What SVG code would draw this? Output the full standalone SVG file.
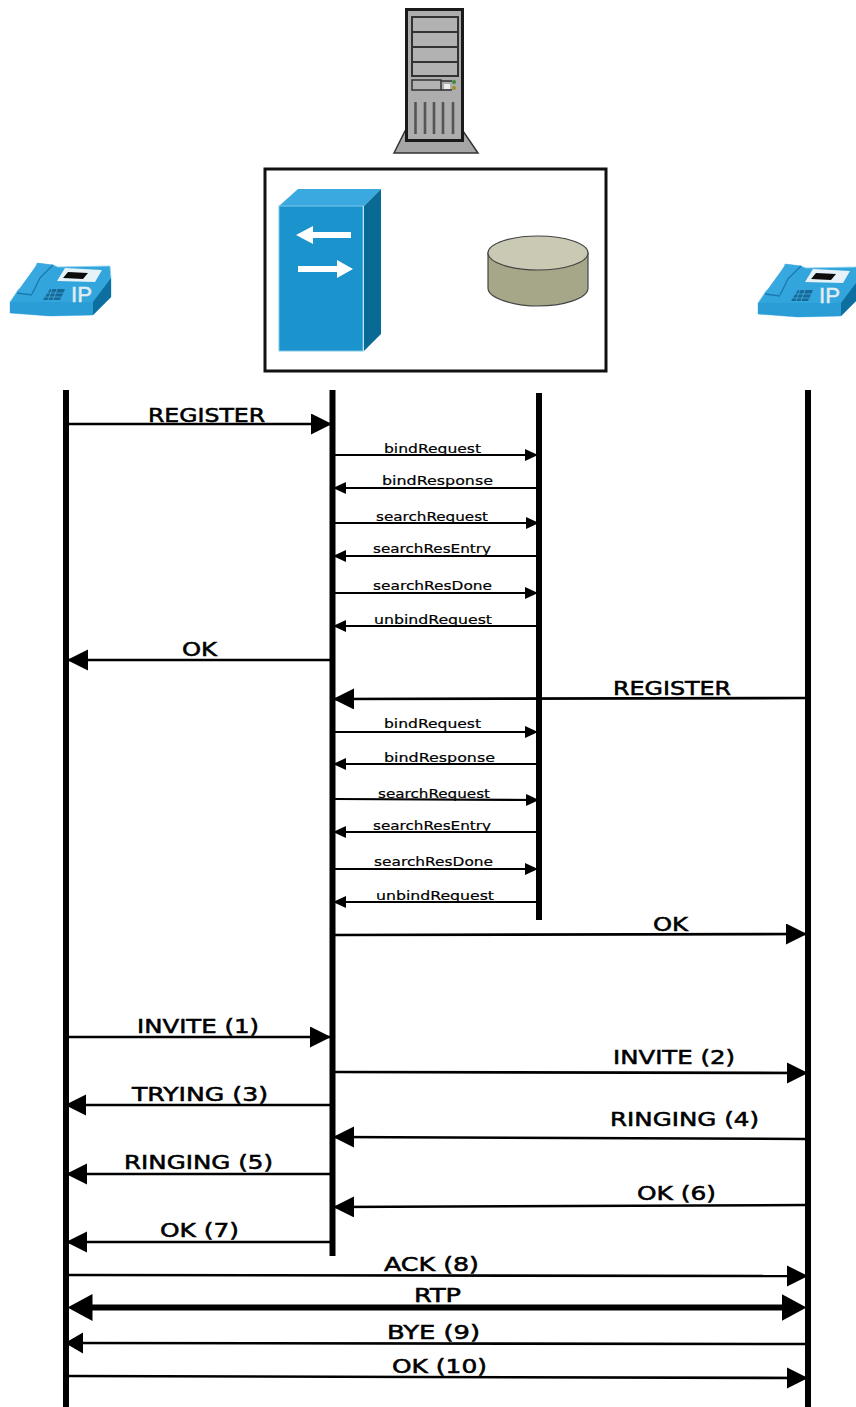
<svg xmlns="http://www.w3.org/2000/svg" width="856" height="1407" viewBox="0 0 856 1407">
<style>
.life{stroke:#000;stroke-width:6;fill:none}
.big{stroke:#000;stroke-width:2.6;fill:none}
.small{stroke:#000;stroke-width:2.2;fill:none}
.hd{fill:#000}
text{font-family:"DejaVu Sans",sans-serif;fill:#000}
.l{font-size:20px;stroke:#000;stroke-width:.55}
.s{font-size:13px;stroke:#000;stroke-width:.2}
</style>
<defs>
<marker id="aB" markerUnits="userSpaceOnUse" markerWidth="22" markerHeight="22" refX="20" refY="10.500" orient="auto-start-reverse"><path class="hd" d="M0 0L21 10.500L0 21Z"/></marker>
<marker id="aM" markerUnits="userSpaceOnUse" markerWidth="19" markerHeight="22" refX="17" refY="10.500" orient="auto-start-reverse"><path class="hd" d="M0 0L18 10.500L0 21Z"/></marker>
<marker id="aR" markerUnits="userSpaceOnUse" markerWidth="27" markerHeight="28" refX="0.500" refY="13.500" orient="auto-start-reverse"><path class="hd" d="M0 0L25 13.500L0 27Z"/></marker>
<marker id="aS" markerUnits="userSpaceOnUse" markerWidth="14" markerHeight="14" refX="12" refY="6" orient="auto-start-reverse"><path class="hd" d="M0 0L13 6L0 12Z"/></marker>
<g id="phone">
<path d="M10 302L18 290L30 282L37 263L53 265L58 267L110 266L111 278L111 297L93 315L50 316L10 313Z" fill="#33a5dd" stroke="#8fd0ef" stroke-width=".8"/>
<path d="M10 302L93 302L93 315L50 316L10 313Z" fill="#2a9dd6"/>
<path d="M93 302L111 278L111 297L93 315Z" fill="#0d6f9f"/>
<path d="M17 292L30 294L54 265L38 263Z" fill="#38a9e0"/>
<path d="M32 294L40 278L53 265M32 295L17 293" fill="none" stroke="#1a7bb0" stroke-width="1.400"/>
<path d="M57 281L65 268L102 270L95 282Z" fill="#e6f2f8"/>
<path d="M63 278L68 272L88 273L83 279Z" fill="#0c0c0c"/>
<path d="M43 300L50 289L65 289L60 300Z" fill="#156a99"/>
<path d="M47 293H63M45 297H61M52 289L48 300M57 289L53 300" stroke="#45aadd" stroke-width=".8" fill="none"/>
<text x="71" y="302" textLength="21" lengthAdjust="spacingAndGlyphs" style="font-family:'Liberation Sans',sans-serif;font-size:22px;fill:#e2ecf1;stroke:#e2ecf1;stroke-width:.5">IP</text>
</g>
</defs>
<g id="server">
<path d="M394 153L405 131L463 131L478 153Z" fill="#a6a6a6" stroke="#333" stroke-width="1.500"/>
<rect x="406.500" y="9.500" width="56" height="131" fill="#adadad" stroke="#1a1a1a" stroke-width="3"/>
<rect x="412" y="17" width="46" height="59" fill="#b2b2b2" stroke="#333" stroke-width="2"/>
<path d="M412 32H458M412 47H458M412 62H458" stroke="#333" stroke-width="2"/>
<rect x="412" y="80" width="29" height="10" fill="#b2b2b2" stroke="#333" stroke-width="1.500"/>
<path d="M441 81H452M441 90H452" stroke="#333" stroke-width="1.500"/>
<rect x="444" y="84" width="6" height="5" fill="#eee"/>
<circle cx="454" cy="82" r="2" fill="#3a8a3a"/><circle cx="454" cy="88" r="2" fill="#a09020"/>
<path d="M415.500 102V134M425 102V134M434 102V134M443 102V134M453 102V134" stroke="#555" stroke-width="2.600"/>
</g>
<g id="box"><rect x="265" y="169" width="341" height="202" fill="#fff" stroke="#111" stroke-width="3"/></g>
<g id="proxy">
<path d="M279 206L298 189L381 189L364 206Z" fill="#3aa9e0"/>
<path d="M364 206L381 189L381 334L364 351Z" fill="#086a95"/>
<rect x="279" y="206" width="84" height="145" fill="#1b93cc" stroke="#7fc8e8" stroke-width="1"/>
<path d="M351 232V238H313V244L296 235L313 226V232Z" fill="#fff"/>
<path d="M298 266V272H337V278L353 269L337 260V266Z" fill="#fff"/>
</g>
<g id="database">
<path d="M488 253V288C488 299 516 306 538 306C562 306 588 299 588 288V253Z" fill="#a6a688" stroke="#444" stroke-width="1.200"/>
<ellipse cx="538" cy="253" rx="50" ry="17" fill="#c9c9b4" stroke="#444" stroke-width="1.200"/>
</g>
<g id="phone-left"><use href="#phone"/></g>
<g id="phone-right"><use href="#phone" x="748" y="1"/></g>
<g id="connectors">
<path class="life" d="M66 390V1407M332.500 390V1256M539 393V920M808 390V1407"/>
<g class="big" marker-end="url(#aB)">
<path d="M68 424H331"/><path d="M330 660H68"/><path d="M806 698L334 699"/><path d="M335 935L806 934"/>
<path d="M68 1037H330"/><path d="M335 1072L807 1073"/><path d="M330 1105H66"/><path d="M806 1139L334 1137"/><path d="M330 1174H67"/><path d="M806 1205L334 1207"/><path d="M330 1242H67"/>
<path d="M68 1275L807 1276"/><path d="M68 1376L807 1378"/>
</g>
<path class="big" d="M806 1344L66 1343" marker-end="url(#aM)"/>
<path d="M92 1307.500H782" stroke="#000" stroke-width="6" fill="none" marker-start="url(#aR)" marker-end="url(#aR)"/>
<g class="small" marker-end="url(#aS)">
<path d="M335 455H537"/><path d="M537 488H334"/><path d="M335 523H538"/><path d="M537 556H334"/><path d="M335 593H537"/><path d="M537 626H334"/>
<path d="M335 732H537"/><path d="M537 764H334"/><path d="M335 799L538 800"/><path d="M537 832H334"/><path d="M335 869H537"/><path d="M537 902H334"/>
</g>
</g>
<g id="labels">
<text class="l" x="148" y="422" textLength="117" lengthAdjust="spacingAndGlyphs">REGISTER</text>
<text class="s" x="384" y="453" textLength="97" lengthAdjust="spacingAndGlyphs">bindRequest</text>
<text class="s" x="382" y="485" textLength="111" lengthAdjust="spacingAndGlyphs">bindResponse</text>
<text class="s" x="376" y="521" textLength="112" lengthAdjust="spacingAndGlyphs">searchRequest</text>
<text class="s" x="373" y="553" textLength="118" lengthAdjust="spacingAndGlyphs">searchResEntry</text>
<text class="s" x="373" y="590" textLength="119" lengthAdjust="spacingAndGlyphs">searchResDone</text>
<text class="s" x="374" y="624" textLength="118" lengthAdjust="spacingAndGlyphs">unbindRequest</text>
<text class="l" x="182" y="656" textLength="35" lengthAdjust="spacingAndGlyphs">OK</text>
<text class="l" x="613" y="695" textLength="118" lengthAdjust="spacingAndGlyphs">REGISTER</text>
<text class="s" x="384" y="728" textLength="97" lengthAdjust="spacingAndGlyphs">bindRequest</text>
<text class="s" x="384" y="762" textLength="111" lengthAdjust="spacingAndGlyphs">bindResponse</text>
<text class="s" x="378" y="798" textLength="112" lengthAdjust="spacingAndGlyphs">searchRequest</text>
<text class="s" x="373" y="830" textLength="118" lengthAdjust="spacingAndGlyphs">searchResEntry</text>
<text class="s" x="374" y="866" textLength="119" lengthAdjust="spacingAndGlyphs">searchResDone</text>
<text class="s" x="376" y="900" textLength="118" lengthAdjust="spacingAndGlyphs">unbindRequest</text>
<text class="l" x="653" y="931" textLength="35" lengthAdjust="spacingAndGlyphs">OK</text>
<text class="l" x="137" y="1033" textLength="122" lengthAdjust="spacingAndGlyphs">INVITE (1)</text>
<text class="l" x="613" y="1064" textLength="122" lengthAdjust="spacingAndGlyphs">INVITE (2)</text>
<text class="l" x="132" y="1101" textLength="136" lengthAdjust="spacingAndGlyphs">TRYING (3)</text>
<text class="l" x="610" y="1126" textLength="149" lengthAdjust="spacingAndGlyphs">RINGING (4)</text>
<text class="l" x="124" y="1169" textLength="149" lengthAdjust="spacingAndGlyphs">RINGING (5)</text>
<text class="l" x="637" y="1200" textLength="79" lengthAdjust="spacingAndGlyphs">OK (6)</text>
<text class="l" x="160" y="1237" textLength="79" lengthAdjust="spacingAndGlyphs">OK (7)</text>
<text class="l" x="384" y="1271" textLength="95" lengthAdjust="spacingAndGlyphs">ACK (8)</text>
<text class="l" x="414" y="1302" textLength="47" lengthAdjust="spacingAndGlyphs">RTP</text>
<text class="l" x="387" y="1339" textLength="93" lengthAdjust="spacingAndGlyphs">BYE (9)</text>
<text class="l" x="392" y="1373" textLength="95" lengthAdjust="spacingAndGlyphs">OK (10)</text>
</g>
</svg>
